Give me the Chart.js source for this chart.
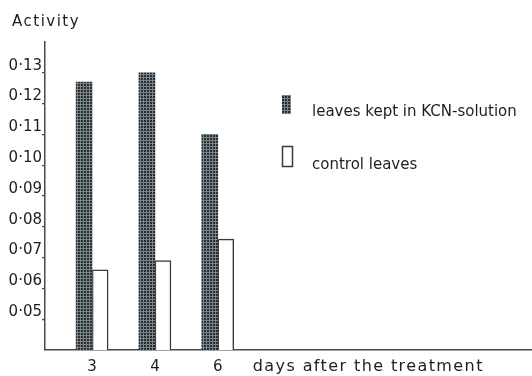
<!DOCTYPE html>
<html>
<head>
<meta charset="utf-8">
<script src="https://cdn.jsdelivr.net/npm/chart.js@4.4.1/dist/chart.umd.min.js"></script>
<style>
  html, body { margin: 0; padding: 0; background: #fff; }
  #wrap { width: 532px; height: 376px; }
</style>
</head>
<body>
<div id="wrap"><canvas id="c" width="532" height="376"></canvas></div>
<script>
// Enzyme activity of leaves, days after the treatment
const days = ['3', '4', '6'];
const kcnLeaves = [0.127, 0.130, 0.110];
const controlLeaves = [0.066, 0.069, 0.076];
const activityTicks = [0.05, 0.06, 0.07, 0.08, 0.09, 0.10, 0.11, 0.12, 0.13];
const seriesNames = ['leaves kept in KCN-solution', 'control leaves'];
const yTitle = 'Activity';
const xTitle = 'days after the treatment';

const INK = '#1e1e1e';
const AXIS = '#4a4a4a';
const FONT = '"DejaVu Sans", sans-serif';

const canvas = document.getElementById('c');
const mainCtx = canvas.getContext('2d');

// fine cross-hatched screen for the KCN bars
function hatchPattern() {
  const p = document.createElement('canvas');
  p.width = 3; p.height = 3;
  const g = p.getContext('2d');
  g.fillStyle = '#272d32';
  g.fillRect(0, 0, 3, 3);
  g.fillStyle = '#7a858a';
  g.fillRect(2, 0, 1, 3);
  g.fillRect(0, 2, 3, 1);
  return mainCtx.createPattern(p, 'repeat');
}
const hatch = hatchPattern();

// axis captions and the key, drawn over the plot
const captions = {
  id: 'captions',
  afterDraw(chart) {
    const { ctx, chartArea, scales } = chart;
    ctx.save();
    ctx.fillStyle = INK;
    ctx.textAlign = 'left';

    ctx.font = '15px ' + FONT;
    ctx.letterSpacing = '1.5px';
    ctx.textBaseline = 'alphabetic';
    ctx.fillText(yTitle, 12, 26);

    ctx.font = '16px ' + FONT;
    ctx.letterSpacing = '1.4px';
    ctx.textBaseline = 'middle';
    ctx.fillText(xTitle, scales.x.getPixelForValue(days.length - 1) + 35, chartArea.bottom + 17);

    // key
    ctx.letterSpacing = '0px';
    ctx.font = '15px ' + FONT;
    ctx.textBaseline = 'alphabetic';
    const boxes = [
      { x: 282, y: 95, w: 9, h: 19 },
      { x: 282.5, y: 146.5, w: 10, h: 20 }
    ];
    chart.data.datasets.forEach((ds, i) => {
      const b = boxes[i];
      ctx.fillStyle = ds.backgroundColor;
      ctx.fillRect(b.x, b.y, b.w, b.h);
      if (ds.borderWidth) {
        ctx.strokeStyle = ds.borderColor;
        ctx.lineWidth = ds.borderWidth;
        ctx.strokeRect(b.x, b.y, b.w, b.h);
      }
      ctx.fillStyle = INK;
      ctx.fillText(ds.label, 312, b.y + b.h + 2);
    });
    ctx.restore();
  }
};

new Chart(canvas, {
  type: 'bar',
  data: {
    datasets: [
      {
        label: seriesNames[0],
        data: days.map((d, i) => ({ x: i, y: kcnLeaves[i] })),
        backgroundColor: hatch,
        borderWidth: 0,
        barThickness: 16
      },
      {
        label: seriesNames[1],
        data: days.map((d, i) => ({ x: i, y: controlLeaves[i] })),
        backgroundColor: '#ffffff',
        borderColor: '#3a3a3a',
        borderWidth: 1.5,
        borderSkipped: 'bottom',
        barThickness: 16
      }
    ]
  },
  options: {
    responsive: false,
    animation: false,
    devicePixelRatio: 1,
    layout: { padding: { top: 42, left: 0, right: 0, bottom: 0 } },
    plugins: {
      legend: { display: false },
      title: { display: false },
      tooltip: { enabled: false }
    },
    scales: {
      x: {
        type: 'linear',
        offset: false,
        min: -0.75,
        max: 7.0,
        afterBuildTicks(scale) {
          scale.ticks = days.map((d, i) => ({ value: i }));
        },
        afterFit(scale) { scale.height = 26; },
        ticks: {
          autoSkip: false,
          maxRotation: 0,
          padding: 8,
          color: INK,
          font: { family: FONT, size: 15 },
          callback: (v, i) => days[i]
        },
        grid: { display: true, offset: false, drawOnChartArea: false, drawTicks: false },
        border: { display: true, color: AXIS, width: 1.5 }
      },
      y: {
        min: 0.04,
        max: 0.14,
        afterBuildTicks(scale) {
          scale.ticks = activityTicks.map(v => ({ value: v }));
        },
        afterFit(scale) { scale.width = 45; },
        ticks: {
          padding: 0,
          labelOffset: -7,
          color: INK,
          font: { family: FONT, size: 15 },
          callback: v => v.toFixed(2).replace('.', '·')
        },
        grid: { display: true, drawOnChartArea: false, drawTicks: true, tickLength: 3, color: AXIS, lineWidth: 1.2 },
        border: { display: true, color: AXIS, width: 1.5 }
      }
    }
  },
  plugins: [captions]
});
</script>
</body>
</html>
